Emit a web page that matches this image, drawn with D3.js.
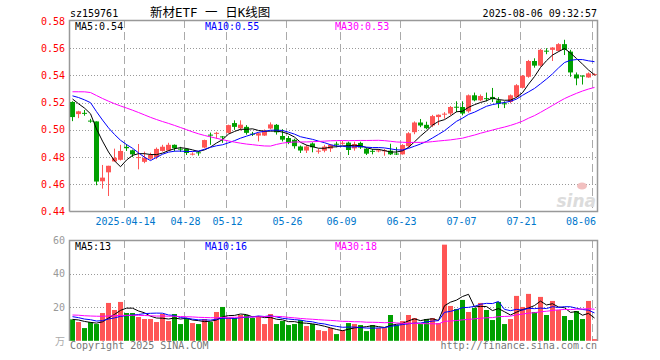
<!DOCTYPE html>
<html><head><meta charset="utf-8">
<script src="https://cdn.jsdelivr.net/npm/d3@7/dist/d3.min.js"></script>
<style>
body{margin:0;background:#fff}
svg{display:block}
text{font-family:"DejaVu Sans Mono",monospace;font-size:10px}
</style>
</head><body>
<svg id="chart" width="660" height="360"></svg>
<script>
const dates = [
"2025-03-31","2025-04-01","2025-04-02","2025-04-03","2025-04-07","2025-04-08","2025-04-09","2025-04-10","2025-04-11",
"2025-04-14","2025-04-15","2025-04-16","2025-04-17","2025-04-18",
"2025-04-21","2025-04-22","2025-04-23","2025-04-24","2025-04-25",
"2025-04-28","2025-04-29","2025-04-30",
"2025-05-06","2025-05-07","2025-05-08","2025-05-09",
"2025-05-12","2025-05-13","2025-05-14","2025-05-15","2025-05-16",
"2025-05-19","2025-05-20","2025-05-21","2025-05-22","2025-05-23",
"2025-05-26","2025-05-27","2025-05-28","2025-05-29","2025-05-30",
"2025-06-03","2025-06-04","2025-06-05","2025-06-06",
"2025-06-09","2025-06-10","2025-06-11","2025-06-12","2025-06-13",
"2025-06-16","2025-06-17","2025-06-18","2025-06-19","2025-06-20",
"2025-06-23","2025-06-24","2025-06-25","2025-06-26","2025-06-27",
"2025-06-30","2025-07-01","2025-07-02","2025-07-03","2025-07-04",
"2025-07-07","2025-07-08","2025-07-09","2025-07-10","2025-07-11",
"2025-07-14","2025-07-15","2025-07-16","2025-07-17","2025-07-18",
"2025-07-21","2025-07-22","2025-07-23","2025-07-24","2025-07-25",
"2025-07-28","2025-07-29","2025-07-30","2025-07-31","2025-08-01",
"2025-08-04","2025-08-05","2025-08-06"];

const openP = [
0.5205,0.5116,0.5125,0.5068,0.5062,0.4622,0.4688,0.4768,0.4780,
0.4875,0.4850,0.4795,0.4765,0.4788,
0.4800,0.4845,0.4848,0.4890,0.4862,
0.4860,0.4820,0.4835,
0.4870,0.4965,0.4975,0.4952,
0.4978,0.5050,0.5012,0.5022,0.4972,
0.4958,0.4958,0.5010,0.5037,0.4955,
0.4940,0.4927,0.4878,0.4848,0.4900,
0.4843,0.4847,0.4862,0.4898,
0.4900,0.4906,0.4864,0.4904,0.4862,
0.4846,0.4845,0.4846,0.4847,0.4826,
0.4820,0.4880,0.4983,0.5054,0.5037,
0.5032,0.5094,0.5114,0.5120,0.5170,
0.5168,0.5136,0.5254,0.5217,0.5233,
0.5242,0.5217,0.5195,0.5205,0.5242,
0.5309,0.5390,0.5506,0.5472,0.5582,
0.5588,0.5580,0.5630,0.5575,0.5407,
0.5399,0.5385,0.5408];
const highP = [
0.5210,0.5140,0.5146,0.5081,0.5062,0.4742,0.4736,0.4862,0.4890,
0.4895,0.4855,0.4896,0.4840,0.4832,
0.4870,0.4890,0.4905,0.4893,0.4875,
0.4865,0.4835,0.4845,
0.4928,0.4980,0.4985,0.4955,
0.5038,0.5070,0.5070,0.5035,0.4985,
0.4980,0.5003,0.5055,0.5043,0.5005,
0.4955,0.4935,0.4885,0.4890,0.4908,
0.4862,0.4890,0.4895,0.4913,
0.4918,0.4913,0.4913,0.4913,0.4869,
0.4859,0.4859,0.4860,0.4898,0.4872,
0.4895,0.4983,0.5062,0.5080,0.5060,
0.5110,0.5113,0.5130,0.5175,0.5210,
0.5210,0.5260,0.5274,0.5260,0.5274,
0.5308,0.5240,0.5210,0.5260,0.5336,
0.5403,0.5514,0.5526,0.5595,0.5600,
0.5608,0.5637,0.5662,0.5588,0.5422,
0.5400,0.5422,0.5415];
const lowP = [
0.5064,0.5086,0.5104,0.5052,0.4593,0.4568,0.4514,0.4766,0.4775,
0.4845,0.4800,0.4710,0.4755,0.4780,
0.4785,0.4840,0.4845,0.4842,0.4838,
0.4815,0.4812,0.4810,
0.4865,0.4890,0.4935,0.4905,
0.4975,0.5000,0.4995,0.4965,0.4955,
0.4915,0.4955,0.5005,0.4965,0.4915,
0.4895,0.4862,0.4830,0.4830,0.4835,
0.4825,0.4835,0.4838,0.4872,
0.4890,0.4815,0.4847,0.4860,0.4815,
0.4820,0.4835,0.4810,0.4815,0.4815,
0.4818,0.4872,0.4968,0.5020,0.5005,
0.5020,0.5035,0.5082,0.5107,0.5130,
0.5107,0.5126,0.5210,0.5210,0.5210,
0.5205,0.5160,0.5160,0.5195,0.5235,
0.5304,0.5383,0.5457,0.5465,0.5556,
0.5506,0.5575,0.5550,0.5390,0.5328,
0.5333,0.5383,0.5398];
const closeP = [
0.5094,0.5136,0.5120,0.5062,0.4620,0.4649,0.4736,0.4795,0.4845,
0.4865,0.4820,0.4800,0.4795,0.4815,
0.4860,0.4876,0.4890,0.4865,0.4855,
0.4830,0.4825,0.4830,
0.4925,0.4958,0.4978,0.4948,
0.5035,0.5022,0.5038,0.4978,0.4965,
0.4975,0.4994,0.5040,0.4982,0.4928,
0.4905,0.4880,0.4848,0.4878,0.4872,
0.4847,0.4877,0.4890,0.4893,
0.4905,0.4852,0.4896,0.4870,0.4825,
0.4843,0.4849,0.4850,0.4820,0.4823,
0.4889,0.4975,0.5054,0.5032,0.5012,
0.5101,0.5111,0.5119,0.5168,0.5166,
0.5120,0.5254,0.5217,0.5249,0.5228,
0.5225,0.5193,0.5192,0.5254,0.5328,
0.5398,0.5506,0.5472,0.5588,0.5578,
0.5605,0.5630,0.5588,0.5422,0.5378,
0.5397,0.5415,0.5410];
const volume = [
12.8,11.2,7.6,11.2,10,16.6,22.6,18.4,23.2,
16.6,16.6,14.2,13,13,
11.2,16,11.8,16,10,
13.6,10.6,10,
13,11.2,17.2,20.2,
13.6,13.6,15.4,15.4,13.6,
14.8,10,16,10,11.8,
9.4,10,12.4,8.8,10,
6.4,5.8,7.6,4,
6.4,10.6,10,9.4,5.8,
9.4,7.6,7.6,15.4,9.4,
11.8,15.4,13.6,10,13,
13.6,10.6,57.4,20.8,19,
24.4,17.2,19.6,22.6,18.4,
12.4,23.2,10,13,26.8,
20.2,28,17.2,26.2,15.4,
23.8,18.4,14.8,12.4,17.8,
13,23.8,1];
// trading days before the visible window (estimated, needed for moving averages)
const priorClose = [
0.514,0.513,0.522,0.528,0.530,
0.533,0.535,0.534,0.532,0.530,0.531,0.533,0.535,0.534,0.532,0.530,0.531,0.532,0.530,0.531,
0.526,0.529,0.527,0.528,0.5266,
0.531,0.528,0.527,0.518];
const priorVolume = [
15,17,16,14,18,16,15,17,16,15,14,17,18,16,15,16,17,15,16,15,
17,16,15,18,14,
13,12,14,12.2];

const tickDates = ["2025-04-14","2025-04-28","2025-05-12","2025-05-26","2025-06-09","2025-06-23","2025-07-07","2025-07-21","2025-08-06"];
const tickLabels = ["2025-04-14","04-28","05-12","05-26","06-09","06-23","07-07","07-21","08-06"];
const priceTicks = [0.44,0.46,0.48,0.50,0.52,0.54,0.56,0.58];
const volTicks = [20,40,60];
const maPeriods = [5,10,30];
const maColors = ["#000000","#0000ff","#ff00ff"];

const RED = "#ff5555", GREEN = "#00a000";
const svg = d3.select("#chart");
svg.append("rect").attr("width",660).attr("height",360).attr("fill","#fff");

const L = 70, R = 598;
const x = d3.scaleBand().domain(d3.range(dates.length)).range([L, R]).padding(0);
const y = d3.scaleLinear().domain([0.44,0.58]).range([211.5,21]);
const yv = d3.scaleLinear().domain([0,60]).range([340.8,240.3]);
const cx = i => x(i) + 2.5;

function movingAvg(prior, vals, n){
  const all = prior.concat(vals), off = prior.length;
  return vals.map((v,i)=> d3.mean(all.slice(off+i-n+1, off+i+1)));
}
const priceMA = maPeriods.map(n=>movingAvg(priorClose, closeP, n));
const volMA = maPeriods.map(n=>movingAvg(priorVolume, volume, n));

// ---------- header ----------
svg.append("text").attr("x",70).attr("y",17).text("sz159761");
svg.append("text").attr("x",150).attr("y",17)
  .style("font-family",'"DejaVu Sans Mono","Noto Sans CJK SC",monospace').style("font-size","12.5px")
  .text("新材ETF 一 日K线图");
svg.append("text").attr("x",597).attr("y",17).attr("text-anchor","end").text("2025-08-06 09:32:57");

// ---------- price panel grid ----------
const gP = svg.append("g");
gP.selectAll("line.h").data(priceTicks.filter(t=>t>0.445&&t<0.575)).join("line")
  .attr("x1",L).attr("x2",597).attr("y1",d=>Math.round(y(d))+0.5).attr("y2",d=>Math.round(y(d))+0.5)
  .attr("stroke","#999").attr("stroke-dasharray","1,2");
const tickIdx = tickDates.map(d=>dates.indexOf(d));
function vgrid(g, y0, y1){
  g.selectAll("line.v").data(tickIdx).join("line")
   .attr("x1",i=>x(i)+0.5).attr("x2",i=>x(i)+0.5).attr("y1",y0).attr("y2",y1)
   .attr("stroke","#aaa").attr("stroke-dasharray","8,4");
}
vgrid(gP, 20, 211);

// y labels
svg.append("g").selectAll("text").data(priceTicks).join("text")
  .attr("x",65).attr("y",d=>y(d)+3.5).attr("text-anchor","end").attr("fill","#ff0000")
  .text(d=>d.toFixed(2));

// x labels
svg.append("g").selectAll("text").data(tickIdx).join("text")
  .attr("y",225).attr("fill","#0077cc").attr("text-anchor","middle")
  .attr("x",(i,k)=>{ const w = tickLabels[k].length*6.02; return Math.min(cx(i)-1, 596 - w/2); })
  .text((i,k)=>tickLabels[k]);

// sina watermark
svg.append("text").attr("x",596).attr("y",207).attr("text-anchor","end")
  .style("font-family","Verdana,'DejaVu Sans',sans-serif").style("font-size","17px")
  .style("font-style","italic").style("font-weight","bold").attr("fill","#dcdcdc").text("sina");
svg.append("ellipse").attr("cx",582).attr("cy",186).attr("rx",5).attr("ry",3.5).attr("fill","#f2c0c0");

// candles
const gC = svg.append("g");
const idx = d3.range(dates.length);
gC.selectAll("line").data(idx).join("line")
  .attr("x1",i=>cx(i)).attr("x2",i=>cx(i))
  .attr("y1",i=>y(highP[i])).attr("y2",i=>y(lowP[i]))
  .attr("stroke",i=>closeP[i]>=openP[i]?RED:GREEN).attr("stroke-width",1);
gC.selectAll("rect").data(idx).join("rect")
  .attr("x",i=>x(i)).attr("width",5)
  .attr("y",i=>Math.min(y(openP[i]),y(closeP[i])))
  .attr("height",i=>Math.max(1,Math.abs(y(openP[i])-y(closeP[i]))))
  .attr("fill",i=>closeP[i]>=openP[i]?RED:GREEN);

// MA lines
const line = d3.line().x((d,i)=>cx(i)).y(d=>y(d));
priceMA.forEach((m,k)=> svg.append("path").attr("d",line(m)).attr("fill","none").attr("stroke",maColors[k]).attr("stroke-width",1));

// borders
svg.append("path").attr("d",`M${L-0.5},211.5V20.5H597.5V211.5H${L-0.5}`).attr("fill","none").attr("stroke","#999").attr("stroke-width",1.5);

// MA labels
const fmtP = v=>v.toFixed(2);
[75,205,335].forEach((xx,k)=>{
  svg.append("text").attr("x",xx).attr("y",29.5).attr("fill",maColors[k])
    .text(`MA${maPeriods[k]}:${fmtP(priceMA[k][priceMA[k].length-1])}`);
});

// ---------- volume panel ----------
const gV = svg.append("g");
gV.selectAll("line.h").data(volTicks.filter(t=>t<60)).join("line")
  .attr("x1",L).attr("x2",597).attr("y1",d=>Math.round(yv(d))+0.5).attr("y2",d=>Math.round(yv(d))+0.5)
  .attr("stroke","#999").attr("stroke-dasharray","1,2");
vgrid(gV, 240, 341);
svg.append("g").selectAll("text").data(volTicks).join("text")
  .attr("x",65).attr("y",d=>yv(d)+3.5).attr("text-anchor","end").attr("fill","#999")
  .text(d=>d);
svg.append("text").attr("x",65).attr("y",345).attr("text-anchor","end").attr("fill","#aaa")
  .style("font-family",'"Noto Sans CJK SC",sans-serif').style("font-size","10px").text("万");

gV.selectAll("rect").data(idx).join("rect")
  .attr("x",i=>x(i)).attr("width",5)
  .attr("y",i=>yv(volume[i])).attr("height",i=>yv(0)-yv(volume[i]))
  .attr("fill",i=>closeP[i]>=openP[i]?RED:GREEN);
const vline = d3.line().x((d,i)=>cx(i)).y(d=>yv(d));
volMA.forEach((m,k)=> svg.append("path").attr("d",vline(m)).attr("fill","none").attr("stroke",maColors[k]).attr("stroke-width",1));

svg.append("path").attr("d",`M${L-0.5},341V240.5H597.5V341`).attr("fill","none").attr("stroke","#999").attr("stroke-width",1.5);
[75,205,335].forEach((xx,k)=>{
  svg.append("text").attr("x",xx).attr("y",250).attr("fill",maColors[k])
    .text(`MA${maPeriods[k]}:${Math.floor(volMA[k][volMA[k].length-1])}`);
});

svg.append("text").attr("x",70).attr("y",349).attr("fill","#777").text("Copyright 2025 SINA.COM");
svg.append("text").attr("x",597).attr("y",349).attr("text-anchor","end").attr("fill","#777").text("http://finance.sina.com.cn");
</script>
</body></html>
